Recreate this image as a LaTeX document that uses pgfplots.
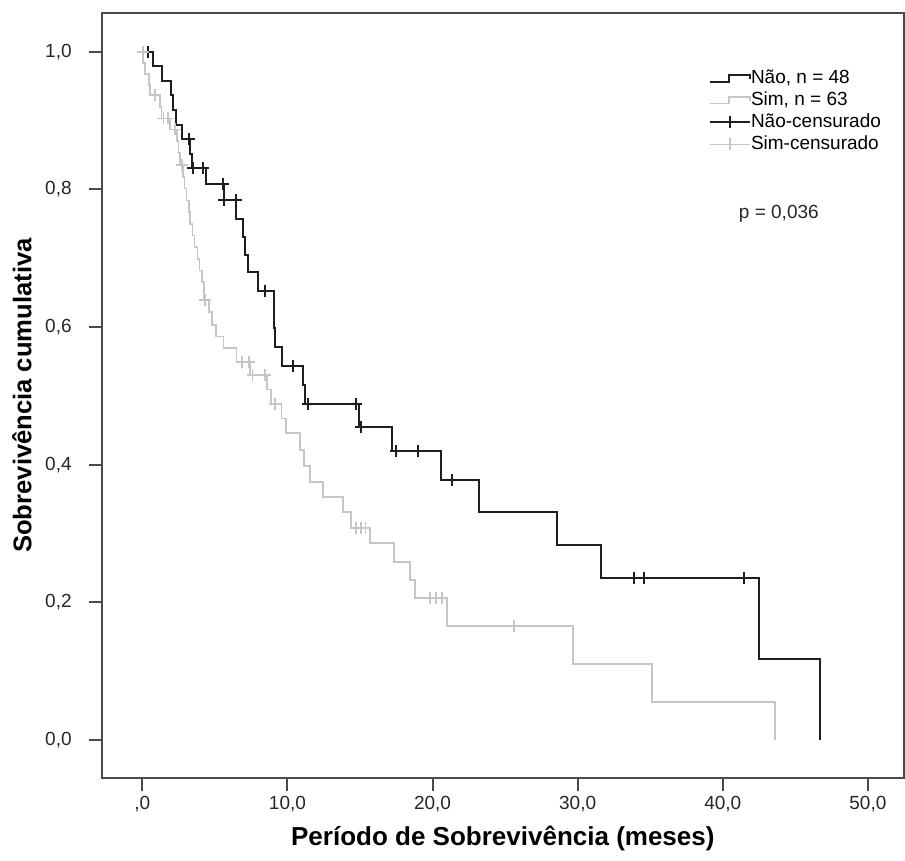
\documentclass[border=0pt]{standalone}
\usepackage{pgfplots}
\pgfplotsset{compat=1.18}
\usepackage{fontspec}
\setmainfont{Liberation Sans}
\definecolor{naoc}{HTML}{1E1E1E}
\definecolor{simc}{HTML}{C6C6C6}
\definecolor{framec}{HTML}{4A4A4A}
\begin{document}
\begin{tikzpicture}
\begin{axis}[
  scale only axis,
  width=401.15pt, height=382.5pt,
  xmin=-2.80, xmax=52.49,
  ymin=-0.0552, ymax=1.0562,
  axis line style={framec, line width=1pt},
  tick style={framec, line width=1pt},
  tick align=outside,
  major tick length=6.5pt,
  xtick={0,10,20,30,40,50},
  xticklabels={{,0},{10,0},{20,0},{30,0},{40,0},{50,0}},
  ytick={0,0.2,0.4,0.6,0.8,1.0},
  yticklabels={{0,0},{0,2},{0,4},{0,6},{0,8},{1,0}},
  xtick pos=bottom, ytick pos=left,
  ticklabel style={font=\fontsize{9.5}{11}\selectfont, text=black!85},
  xticklabel style={yshift=1pt},
  yticklabel style={xshift=-5pt},
  xlabel={Período de Sobrevivência (meses)},
  ylabel={Sobrevivência cumulativa},
  xlabel style={at={(axis description cs:0.5,-0.079)}, anchor=center, font=\fontsize{13}{15}\selectfont\bfseries},
  ylabel style={at={(axis description cs:-0.0993,0.5)}, anchor=center, font=\fontsize{12.8}{15}\selectfont\bfseries},
  legend cell align=left,
  legend style={draw=none, fill=none, at={(axis description cs:0.749,0.932)}, anchor=north west,
    font=\fontsize{9.5}{11}\selectfont, row sep=2pt, column sep=0pt,
    nodes={inner sep=0pt, text height=7pt, text depth=2pt}},
]
% Nao, n = 48
\addplot[const plot, color=naoc, line width=1pt,
  legend image code/.code={\draw[naoc, line width=1pt] (0pt,-1.6pt) -- (9.6pt,-1.6pt) -- (9.6pt,1.6pt) -- (20pt,1.6pt) -- (20pt,-0.4pt);}]
coordinates {
(0,1) (0.76,0.979) (1.34,0.958) (1.98,0.937) (2.14,0.915) (2.32,0.894) (2.71,0.873)
(3.3,0.852) (3.4,0.831) (4.39,0.808) (5.6,0.784) (6.46,0.757) (6.92,0.731) (7.08,0.705)
(7.26,0.680) (7.95,0.653) (9.05,0.626) (9.1,0.598) (9.15,0.571) (9.6,0.544) (11.05,0.516)
(11.2,0.488) (14.96,0.454) (17.19,0.420) (20.59,0.377) (23.2,0.331) (28.56,0.283)
(31.6,0.236) (42.52,0.118) (46.7,0)
};
\addlegendentry{Não, n = 48}
% Sim, n = 63
\addplot[const plot, color=simc, line width=0.85pt,
  legend image code/.code={\draw[simc, line width=0.85pt] (0pt,-1.6pt) -- (9.6pt,-1.6pt) -- (9.6pt,1.6pt) -- (20pt,1.6pt) -- (20pt,-0.4pt);}]
coordinates {
(0,1) (0.07,0.984) (0.2,0.968) (0.48,0.952) (0.53,0.937) (1.22,0.920) (1.33,0.903)
(1.91,0.887) (2.37,0.870) (2.5,0.853) (2.6,0.835) (2.8,0.818) (2.9,0.801) (3.05,0.784)
(3.2,0.767) (3.3,0.750) (3.45,0.733) (3.6,0.716) (3.8,0.699) (3.95,0.682) (4.1,0.665)
(4.25,0.639) (4.6,0.622) (4.8,0.603) (5.1,0.586) (5.6,0.569) (6.5,0.549) (7.42,0.530)
(8.57,0.509) (8.85,0.488) (9.6,0.467) (9.9,0.446) (10.87,0.421) (11.15,0.398)
(11.56,0.375) (12.43,0.353) (13.81,0.331) (14.38,0.308) (15.69,0.286) (17.35,0.259)
(18.45,0.2325) (18.79,0.206) (21.0,0.166) (29.7,0.110) (35.1,0.055) (43.6,0)
};
\addlegendentry{Sim, n = 63}
% Nao censurado
\addplot[only marks, mark=+, mark size=3pt, color=naoc, mark options={line width=1pt},
  legend image code/.code={\draw[naoc, line width=1pt] (0pt,0pt) -- (20pt,0pt); \draw[naoc, line width=1pt] (10pt,-3pt) -- (10pt,3pt);}]
coordinates {
(0.37,1) (3.2,0.873) (3.52,0.831) (4.2,0.831) (5.54,0.808) (5.62,0.784) (6.43,0.784)
(8.46,0.653) (10.4,0.544) (11.44,0.488) (14.73,0.488) (15.05,0.454) (17.46,0.420)
(19.02,0.420) (21.32,0.377) (33.9,0.236) (34.58,0.236) (41.47,0.236)
};
\addlegendentry{Não-censurado}
% Sim censurado
\addplot[only marks, mark=+, mark size=3pt, color=simc, mark options={line width=0.85pt},
  legend image code/.code={\draw[simc, line width=0.85pt] (0pt,0pt) -- (20pt,0pt); \draw[simc, line width=0.85pt] (10pt,-3pt) -- (10pt,3pt);}]
coordinates {
(0.05,1) (0.87,0.937) (1.45,0.903) (1.75,0.903) (2.25,0.887) (2.71,0.835) (4.32,0.639)
(6.85,0.549) (7.35,0.549) (7.6,0.530) (8.46,0.530) (9.15,0.488) (14.73,0.308)
(15.08,0.308) (15.37,0.308) (19.83,0.206) (20.24,0.206) (20.63,0.206) (25.6,0.166)
};
\addlegendentry{Sim-censurado}
\node[font=\fontsize{9.5}{11}\selectfont, text=black!85] at (axis description cs:0.844,0.737) {p = 0,036};
\end{axis}
\pgfresetboundingbox
\path[use as bounding box] ([xshift=-50.85pt,yshift=6.5pt]current axis.north west) rectangle ([xshift=0.5pt,yshift=-41.5pt]current axis.south east);
\end{tikzpicture}
\end{document}
